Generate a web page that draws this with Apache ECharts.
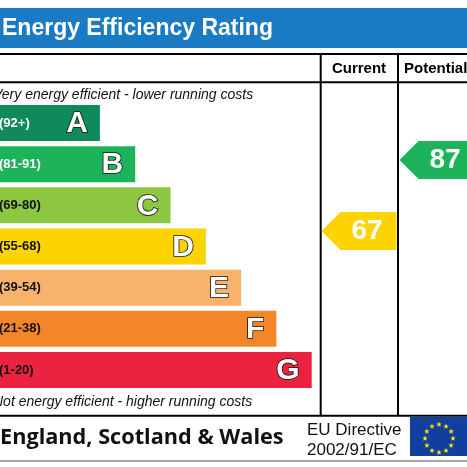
<!DOCTYPE html>
<html><head><meta charset="utf-8">
<script src="https://cdn.jsdelivr.net/npm/echarts@6/dist/echarts.min.js"></script>
<style>html,body{margin:0;padding:0;background:#fff}#c{width:467px;height:467px}</style>
</head><body><div id="c"></div>
<script>
// ---- data ----
const bands = ['A','B','C','D','E','F','G'];
const ranges = ['(92+)','(81-91)','(69-80)','(55-68)','(39-54)','(21-38)','(1-20)'];
const bandMin = [92,81,69,55,39,21,1];
const bandRank = [1,2,3,4,5,6,7];
const columns = ['Current','Potential'];
const ratings = [67,87];
const titleText = 'Energy Efficiency Rating';
const topNote = 'Very energy efficient - lower running costs';
const bottomNote = 'Not energy efficient - higher running costs';
const footerRegion = 'England, Scotland & Wales';
const footerDirective = ['EU Directive','2002/91/EC'];

// ---- style ----
const bandColors = ['#0e8a5b','#1db35a','#8dc641','#fdd300','#f9b26c','#f4862a','#ec2340'];
const labelColors = ['#fff','#fff','#111','#111','#111','#111','#111'];
const STUB = 1.83;
const bandOf = v => bandMin.findIndex(m => v >= m);
const SANS = '"Liberation Sans", Arial, sans-serif';

const chart = echarts.init(document.getElementById('c'), null, {renderer:'canvas'});

function star(cx, cy, R, r) {
  const pts = [];
  for (let k = 0; k < 10; k++) {
    const a = -Math.PI/2 + k*Math.PI/5;
    const rr = k % 2 ? r : R;
    pts.push([cx + rr*Math.cos(a), cy + rr*Math.sin(a)]);
  }
  return {type:'polygon', shape:{points:pts}, style:{fill:'#ffe500'}, silent:true};
}
const flagStars = [];
for (let k = 0; k < 12; k++) {
  const a = k*Math.PI/6;
  flagStars.push(star(439 + 14*Math.sin(a), 438.5 - 14*Math.cos(a), 2.9, 1.2));
}

const line = (x1,y1,x2,y2,c,w) => ({type:'line', shape:{x1,y1,x2,y2}, style:{stroke:c||'#000', lineWidth:w||2}, silent:true});
const txt = (x,y,text,font,fill,align) => ({type:'text', x, y, style:{text, font, fill:fill||'#000', align:align||'left', verticalAlign:'middle'}, silent:true});

const option = {
  animation:false,
  grid:[
    {left:0, top:102.4, width:320, height:288.2, outerBoundsMode:'none'},
    {left:320, top:113.85, width:156, height:355, outerBoundsMode:'none'}
  ],
  xAxis:[
    {gridIndex:0, type:'value', min:0, max:9.065, show:false},
    {gridIndex:1, type:'category', data:columns, show:false}
  ],
  yAxis:[
    {gridIndex:0, type:'category', data:bands, inverse:true, show:false},
    {gridIndex:1, type:'value', min:0, max:100, show:false}
  ],
  series:[
    {
      type:'bar', xAxisIndex:0, yAxisIndex:0, barWidth:36,
      data: bandRank.map((r,i)=>({value:r+STUB, itemStyle:{color:bandColors[i]}, label:{color:labelColors[i]}})),
      label:{show:true, position:'insideLeft', distance:0, offset:[-1,0],
        formatter: p => ranges[p.dataIndex], fontSize:13, fontWeight:'bold', fontFamily:SANS}
    },
    {
      type:'bar', xAxisIndex:0, yAxisIndex:0, barWidth:36, barGap:'-100%',
      data: bandRank.map(r=>r+STUB), itemStyle:{color:'rgba(0,0,0,0)'},
      label:{show:true, position:'insideRight', distance:0, offset:[-12,1],
        formatter: p => bands[p.dataIndex], fontSize:30, fontWeight:'bold', fontFamily:SANS, color:'#fff',
        textBorderColor:'#111', textBorderWidth:1.6}
    },
    {
      type:'scatter', xAxisIndex:1, yAxisIndex:1,
      symbol:'path://M0,19L19,0L75,0L75,38L19,38Z', symbolSize:[75,38],
      data: ratings.map((v,i)=>({value:[columns[i], v], itemStyle:{color:bandColors[bandOf(v)], opacity:1}})),
      label:{show:true, position:'inside', offset:[8,0], formatter: p => p.value[1],
        color:'#fff', fontSize:28, fontWeight:'bold', fontFamily:SANS}
    }
  ],
  graphic:[
    {type:'rect', shape:{x:0,y:8,width:467,height:40}, style:{fill:'#1a7bc4'}, silent:true},
    txt(2, 28.5, titleText, 'bold 23px '+SANS, '#fff'),
    line(0,54,467,54), line(0,82.3,467,82.3), line(0,415.8,467,415.8),
    line(320.7,54,320.7,415.8), line(398,54,398,415.8),
    line(0,461,467,461,'#a8a8a8',2),
    txt(359, 69, columns[0], 'bold 15px '+SANS, '#000', 'center'),
    txt(404, 69, columns[1], 'bold 15px '+SANS, '#000', 'left'),
    txt(-7, 95.5, topNote, 'italic 14px '+SANS, '#111'),
    txt(-7, 402, bottomNote, 'italic 14px '+SANS, '#111'),
    txt(0, 437.5, footerRegion, 'bold 21.7px "Open Sans", sans-serif', '#111'),
    txt(307, 430, footerDirective[0], '17px '+SANS, '#111'),
    txt(307, 450, footerDirective[1], '17px '+SANS, '#111'),
    {type:'rect', shape:{x:410,y:417,width:60,height:39}, style:{fill:'#113f9e'}, silent:true}
  ].concat(flagStars)
};
chart.setOption(option);
</script></body></html>
